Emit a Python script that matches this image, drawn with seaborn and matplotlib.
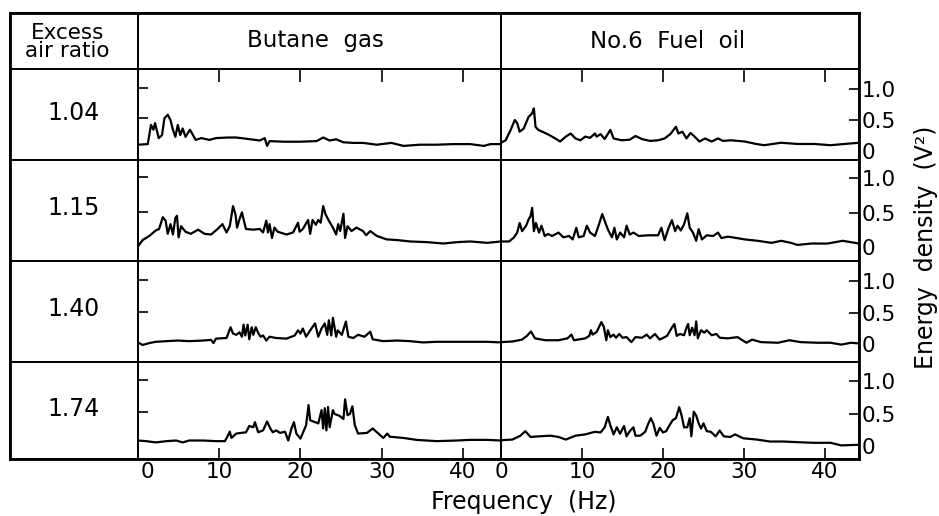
import matplotlib
matplotlib.use("Agg")
import matplotlib.pyplot as plt
import matplotlib.transforms as mtransforms
import seaborn as sns

# Excess air ratio rows
RATIOS = ["1.04", "1.15", "1.40", "1.74"]
FUELS = ["Butane  gas", "No.6  Fuel  oil"]

# Butane gas, ratio 1.04
BU_104_HZ = [0, 1.2, 1.6, 1.9, 2.1, 2.55, 2.96, 3.25, 3.66, 4.0, 4.3, 4.6, 4.9, 5.2, 5.5, 5.85,
             6.4, 7.1, 7.8, 8.8, 9.6, 11.1, 12.1, 13.3, 15.0, 15.6, 15.9, 16.2, 17.9, 19.9, 22.0,
             22.8, 23.6, 24.4, 25.3, 26.5, 27.7, 29.4, 31.2, 32.7, 34.7, 36.8, 38.8, 40.9, 42.6,
             43.4, 44.7]
BU_104_E = [0.06, 0.07, 0.39, 0.31, 0.42, 0.17, 0.22, 0.50, 0.56, 0.47, 0.31, 0.19, 0.39, 0.22,
            0.33, 0.19, 0.31, 0.14, 0.17, 0.14, 0.17, 0.18, 0.18, 0.16, 0.13, 0.17, 0.04, 0.12,
            0.11, 0.11, 0.12, 0.18, 0.13, 0.15, 0.10, 0.09, 0.09, 0.06, 0.09, 0.04, 0.06, 0.06,
            0.07, 0.07, 0.04, 0.07, 0.07]

# No.6 fuel oil, ratio 1.04
FO_104_HZ = [0, 0.57, 1.2, 1.7, 2.0, 2.3, 2.8, 3.4, 3.85, 4.06, 4.26, 4.6, 5.1, 5.9, 6.7, 7.3,
             8.0, 8.6, 9.2, 9.8, 10.4, 11.0, 11.6, 11.8, 12.3, 12.8, 13.5, 13.9, 14.9, 15.9, 16.6,
             17.4, 18.4, 19.4, 20.2, 20.9, 21.6, 21.9, 22.4, 22.9, 23.4, 23.9, 24.5, 25.2, 26.0,
             26.8, 27.4, 28.4, 30.1, 31.5, 32.5, 34.6, 36.6, 38.7, 40.7, 42.4, 44.2]
FO_104_E = [0.13, 0.17, 0.34, 0.50, 0.45, 0.31, 0.36, 0.55, 0.61, 0.69, 0.39, 0.34, 0.31, 0.26,
            0.20, 0.15, 0.23, 0.28, 0.20, 0.17, 0.23, 0.21, 0.28, 0.23, 0.27, 0.19, 0.34, 0.20,
            0.17, 0.18, 0.24, 0.19, 0.16, 0.17, 0.20, 0.27, 0.39, 0.28, 0.31, 0.20, 0.29, 0.23,
            0.15, 0.20, 0.15, 0.20, 0.16, 0.17, 0.15, 0.11, 0.09, 0.13, 0.11, 0.11, 0.09, 0.11,
            0.13]

# Butane gas, ratio 1.15
BU_115_HZ = [0, 0.57, 1.4, 2.2, 2.6, 3.05, 3.4, 3.66, 4.0, 4.3, 4.6, 4.8, 5.0, 5.3, 5.85, 6.5,
             7.4, 8.2, 9.0, 9.8, 10.4, 10.9, 11.3, 11.7, 12.0, 12.2, 12.5, 12.8, 13.1, 13.3, 14.2,
             15.0, 15.4, 15.8, 16.0, 16.2, 16.5, 16.8, 17.2, 18.3, 19.1, 19.7, 19.9, 20.3, 20.95,
             21.2, 21.5, 21.9, 22.2, 22.5, 22.8, 23.1, 23.5, 24.0, 24.4, 24.65, 24.9, 25.3, 25.5,
             25.8, 26.3, 26.9, 27.7, 28.1, 28.6, 29.4, 30.6, 31.9, 33.5, 35.6, 37.6, 39.3, 40.9,
             43.0, 44.7]
BU_115_E = [0.0, 0.09, 0.15, 0.23, 0.25, 0.42, 0.37, 0.18, 0.32, 0.17, 0.41, 0.44, 0.13, 0.29,
            0.21, 0.18, 0.24, 0.18, 0.17, 0.25, 0.32, 0.20, 0.29, 0.58, 0.46, 0.27, 0.39, 0.49,
            0.34, 0.25, 0.24, 0.25, 0.20, 0.37, 0.20, 0.32, 0.12, 0.27, 0.21, 0.17, 0.20, 0.34,
            0.21, 0.25, 0.38, 0.18, 0.38, 0.31, 0.38, 0.34, 0.58, 0.46, 0.37, 0.27, 0.17, 0.32,
            0.22, 0.47, 0.12, 0.29, 0.22, 0.27, 0.22, 0.16, 0.22, 0.15, 0.10, 0.09, 0.07, 0.06,
            0.04, 0.06, 0.07, 0.05, 0.07]

# No.6 fuel oil, ratio 1.15
FO_115_HZ = [0, 1.0, 1.6, 2.0, 2.3, 2.6, 3.1, 3.4, 3.65, 3.85, 4.06, 4.3, 4.7, 5.0, 5.4, 5.8,
             6.3, 7.1, 7.7, 8.4, 8.85, 9.3, 9.6, 10.2, 10.6, 11.0, 11.6, 12.1, 12.5, 12.95, 13.3,
             13.7, 14.0, 14.3, 14.7, 15.2, 15.5, 15.9, 16.35, 17.0, 18.2, 19.4, 19.8, 20.2, 20.7,
             21.1, 21.5, 21.8, 22.2, 22.6, 23.0, 23.3, 23.7, 24.1, 24.4, 24.8, 25.4, 26.2, 26.8,
             27.2, 28.0, 28.6, 30.1, 31.7, 33.4, 34.6, 35.8, 36.6, 38.3, 40.3, 42.2, 44.2]
FO_115_E = [0.08, 0.08, 0.14, 0.21, 0.35, 0.23, 0.31, 0.40, 0.45, 0.57, 0.23, 0.35, 0.21, 0.31,
            0.16, 0.19, 0.16, 0.21, 0.14, 0.16, 0.11, 0.28, 0.14, 0.16, 0.31, 0.21, 0.16, 0.33,
            0.48, 0.33, 0.23, 0.14, 0.28, 0.11, 0.21, 0.14, 0.31, 0.18, 0.21, 0.16, 0.17, 0.17,
            0.28, 0.10, 0.28, 0.39, 0.23, 0.31, 0.24, 0.33, 0.49, 0.28, 0.21, 0.09, 0.26, 0.11,
            0.17, 0.16, 0.21, 0.13, 0.15, 0.14, 0.11, 0.09, 0.06, 0.09, 0.06, 0.03, 0.05, 0.05,
            0.09, 0.05]

# Butane gas, ratio 1.40
BU_140_HZ = [0, 0.57, 1.4, 2.2, 3.5, 4.9, 6.3, 8.0, 9.0, 9.3, 9.6, 10.9, 11.4, 11.7, 12.1, 12.5,
             12.8, 13.0, 13.2, 13.5, 13.7, 14.0, 14.2, 14.5, 14.8, 15.1, 15.4, 15.8, 16.2, 17.0,
             18.3, 19.3, 19.7, 20.0, 20.3, 20.7, 21.2, 21.8, 22.2, 22.6, 23.0, 23.3, 23.5, 23.8,
             24.0, 24.4, 24.6, 25.1, 25.6, 25.9, 26.5, 27.1, 27.9, 28.6, 28.9, 30.2, 31.9, 33.5,
             35.1, 36.8, 38.8, 40.9, 43.0, 44.7]
BU_140_E = [0.02, -0.02, 0.01, 0.03, 0.04, 0.05, 0.04, 0.05, 0.06, 0.01, 0.08, 0.09, 0.26, 0.16,
            0.14, 0.18, 0.11, 0.30, 0.13, 0.30, 0.07, 0.26, 0.14, 0.26, 0.17, 0.11, 0.13, 0.05,
            0.11, 0.09, 0.08, 0.13, 0.21, 0.16, 0.24, 0.11, 0.21, 0.32, 0.11, 0.24, 0.32, 0.14,
            0.37, 0.13, 0.41, 0.11, 0.21, 0.14, 0.35, 0.11, 0.09, 0.14, 0.11, 0.19, 0.07, 0.04,
            0.05, 0.04, 0.02, 0.03, 0.03, 0.03, 0.03, 0.02]

# No.6 fuel oil, ratio 1.40
FO_140_HZ = [0, 1.4, 2.6, 3.2, 3.7, 4.2, 5.5, 7.1, 8.2, 8.7, 9.0, 10.4, 10.9, 11.1, 11.3, 11.8,
             12.4, 12.7, 13.0, 13.2, 13.5, 13.9, 14.2, 14.6, 15.0, 15.5, 16.1, 16.6, 17.4, 18.0,
             18.4, 19.0, 19.6, 20.5, 21.0, 21.4, 21.7, 22.1, 22.6, 22.9, 23.1, 23.3, 23.6, 23.9,
             24.1, 24.3, 24.7, 25.1, 25.4, 26.0, 26.6, 27.0, 28.0, 29.2, 30.3, 31.0, 32.1, 34.2,
             35.6, 37.0, 39.1, 40.7, 42.0, 43.2, 44.2]
FO_140_E = [0.03, 0.04, 0.07, 0.13, 0.20, 0.09, 0.06, 0.06, 0.09, 0.15, 0.06, 0.09, 0.13, 0.22,
            0.15, 0.19, 0.35, 0.27, 0.06, 0.22, 0.11, 0.15, 0.10, 0.16, 0.10, 0.11, 0.03, 0.11,
            0.10, 0.15, 0.09, 0.16, 0.07, 0.13, 0.24, 0.32, 0.13, 0.16, 0.14, 0.26, 0.32, 0.14,
            0.26, 0.14, 0.36, 0.09, 0.22, 0.18, 0.22, 0.14, 0.16, 0.10, 0.09, 0.11, 0.02, 0.07,
            0.03, 0.02, 0.06, 0.03, 0.02, 0.02, -0.01, 0.02, 0.01]

# Butane gas, ratio 1.74
BU_174_HZ = [0, 1.0, 2.2, 3.5, 4.7, 5.5, 6.3, 8.0, 9.6, 10.7, 11.0, 11.3, 11.5, 12.1, 12.7, 13.3,
             13.7, 14.2, 14.4, 14.8, 15.4, 15.9, 16.3, 16.6, 17.0, 17.5, 18.1, 18.5, 18.9, 19.2,
             19.5, 20.0, 20.3, 20.7, 21.0, 21.2, 21.6, 22.2, 22.6, 22.8, 23.0, 23.2, 23.4, 23.6,
             24.0, 24.2, 24.8, 25.3, 25.5, 25.8, 26.1, 26.4, 26.7, 27.1, 28.2, 28.9, 29.6, 30.2,
             30.7, 31.0, 32.7, 34.3, 36.8, 39.3, 40.9, 43.0, 44.7]
BU_174_E = [0.05, 0.04, 0.02, 0.04, 0.05, 0.02, 0.05, 0.05, 0.04, 0.04, 0.11, 0.19, 0.09, 0.16,
            0.17, 0.18, 0.28, 0.26, 0.34, 0.18, 0.21, 0.35, 0.24, 0.18, 0.21, 0.17, 0.19, 0.05,
            0.24, 0.34, 0.16, 0.08, 0.17, 0.29, 0.61, 0.37, 0.35, 0.32, 0.53, 0.24, 0.56, 0.21,
            0.58, 0.26, 0.53, 0.47, 0.44, 0.39, 0.70, 0.45, 0.47, 0.59, 0.29, 0.16, 0.17, 0.24,
            0.16, 0.09, 0.16, 0.11, 0.09, 0.06, 0.04, 0.05, 0.06, 0.06, 0.05]

# No.6 fuel oil, ratio 1.74
FO_174_HZ = [0, 1.4, 2.4, 3.0, 3.65, 4.7, 6.1, 7.1, 8.0, 9.2, 10.4, 11.6, 12.3, 12.8, 13.2, 13.5,
             13.9, 14.3, 14.7, 15.2, 15.5, 15.9, 16.35, 16.6, 17.2, 17.8, 18.2, 18.5, 18.8, 19.2,
             19.6, 20.0, 20.4, 20.8, 21.2, 21.6, 22.0, 22.3, 22.6, 23.0, 23.3, 23.5, 23.8, 24.1,
             24.4, 24.7, 25.0, 25.4, 25.9, 26.5, 27.0, 27.5, 28.3, 28.9, 29.9, 31.6, 33.2, 34.9,
             36.6, 38.6, 40.7, 42.0, 44.2]
FO_174_E = [0.09, 0.10, 0.16, 0.23, 0.14, 0.15, 0.16, 0.14, 0.10, 0.16, 0.18, 0.22, 0.21, 0.29,
            0.45, 0.32, 0.18, 0.29, 0.19, 0.31, 0.15, 0.23, 0.29, 0.16, 0.16, 0.22, 0.35, 0.43,
            0.35, 0.16, 0.28, 0.21, 0.23, 0.32, 0.40, 0.43, 0.60, 0.47, 0.29, 0.29, 0.43, 0.15,
            0.53, 0.47, 0.35, 0.27, 0.35, 0.23, 0.22, 0.15, 0.24, 0.15, 0.14, 0.18, 0.12, 0.10,
            0.07, 0.07, 0.06, 0.05, 0.05, 0.01, 0.02]

TRACES = [
    [(BU_104_HZ, BU_104_E), (FO_104_HZ, FO_104_E)],
    [(BU_115_HZ, BU_115_E), (FO_115_HZ, FO_115_E)],
    [(BU_140_HZ, BU_140_E), (FO_140_HZ, FO_140_E)],
    [(BU_174_HZ, BU_174_E), (FO_174_HZ, FO_174_E)],
]

# layout in pixels of the 939x516 canvas
W, H = 939, 516
ROW_EDGES = [69, 160, 261, 362, 459]
COL_EDGES = [10, 138, 501, 859]
TOP = 13
XLIMS = [(0, 44.7), (0, 44.2)]
YLIMS = [
    [(-0.195, 1.322), (-0.151, 1.331)],
    [(-0.212, 1.245), (-0.204, 1.266)],
    [(-0.289, 1.306), (-0.287, 1.324)],
    [(-0.242, 1.290), (-0.200, 1.298)],
]

sns.set_theme(style="white")
plt.rcParams['font.family'] = ['DejaVu Sans']
plt.rcParams.update({
    'axes.edgecolor': 'black', 'axes.linewidth': 1.4,
    'text.color': 'black', 'axes.labelcolor': 'black',
    'xtick.color': 'black', 'ytick.color': 'black',
})

fig = plt.figure(figsize=(W / 100, H / 100), dpi=100)


def cell(x0, y0, x1, y1):
    ax = fig.add_axes([x0 / W, 1 - y1 / H, (x1 - x0) / W, (y1 - y0) / H])
    ax.set_xticks([])
    ax.set_yticks([])
    for s in ax.spines.values():
        s.set_color('black')
        s.set_linewidth(1.4)
    return ax


# header row
hdr = cell(COL_EDGES[0], TOP, COL_EDGES[1], ROW_EDGES[0])
hdr.text(0.45, 0.48, "Excess\nair ratio", ha='center', va='center', fontsize=15.5,
         linespacing=0.88, transform=hdr.transAxes)
for j, name in enumerate(FUELS):
    h = cell(COL_EDGES[j + 1], TOP, COL_EDGES[j + 2], ROW_EDGES[0])
    h.text(0.49 if j == 0 else 0.465, 0.5, name, ha='center', va='center', fontsize=16.5,
           transform=h.transAxes)

for i, ratio in enumerate(RATIOS):
    y0, y1 = ROW_EDGES[i], ROW_EDGES[i + 1]
    lab = cell(COL_EDGES[0], y0, COL_EDGES[1], y1)
    lab.text(0.5, 0.52, ratio, ha='center', va='center', fontsize=17,
             transform=lab.transAxes)

    for j in range(2):
        ax = cell(COL_EDGES[j + 1], y0, COL_EDGES[j + 2], y1)
        hz, e = TRACES[i][j]
        sns.lineplot(x=hz, y=e, ax=ax, color='black', linewidth=1.6,
                     sort=False, estimator=None)
        ax.set_xlim(*XLIMS[j])
        ax.set_ylim(*YLIMS[i][j])
        ax.set_xlabel("")
        ax.set_ylabel("")

        # energy ticks
        if j == 0:
            ax.set_yticks([0.5, 1.0])
            ax.tick_params(axis='y', left=True, right=False, direction='in', length=7,
                           width=1.2, labelleft=False)
        else:
            ax.yaxis.tick_right()
            ax.set_yticks([0, 0.5, 1.0])
            ax.set_yticklabels(["0", "0.5", "1.0"])
            ax.tick_params(axis='y', left=False, right=True, direction='in', length=7,
                           width=1.2, pad=2, labelsize=15.5)
            ax.yaxis.get_major_ticks()[0].tick2line.set_visible(False)

        # frequency ticks
        if i == 0:
            ax.xaxis.tick_top()
            ax.set_xticks([10, 20, 30, 40])
            ax.tick_params(axis='x', top=True, bottom=False, direction='in', length=9,
                           width=1.2, labeltop=False)
        elif i == len(RATIOS) - 1:
            ax.set_xticks([0, 10, 20, 30, 40])
            ax.set_xticklabels(["0", "10", "20", "30", "40"])
            ax.tick_params(axis='x', bottom=True, top=False, direction='in', length=8,
                           width=1.2, pad=2, labelsize=15.5)
            ax.xaxis.get_major_ticks()[0].tick1line.set_visible(False)
            if j == 0:
                lbl = ax.xaxis.get_major_ticks()[0].label1
                lbl.set_transform(lbl.get_transform() +
                                  mtransforms.ScaledTranslation(0.09, 0, fig.dpi_scale_trans))

# outer border a bit heavier
frame = fig.add_axes([COL_EDGES[0] / W, 1 - ROW_EDGES[-1] / H,
                      (COL_EDGES[-1] - COL_EDGES[0]) / W, (ROW_EDGES[-1] - TOP) / H])
frame.patch.set_alpha(0)
frame.set_xticks([])
frame.set_yticks([])
for s in frame.spines.values():
    s.set_linewidth(2.0)
    s.set_color('black')

fig.text(524 / W, 1 - 509 / H, "Frequency  (Hz)", ha='center', va='baseline', fontsize=17)
fig.text(926 / W, 1 - 247 / H, "Energy  density  (V²)", ha='center', va='center',
         rotation=90, fontsize=17)

fig.savefig("out.png", dpi=100)
